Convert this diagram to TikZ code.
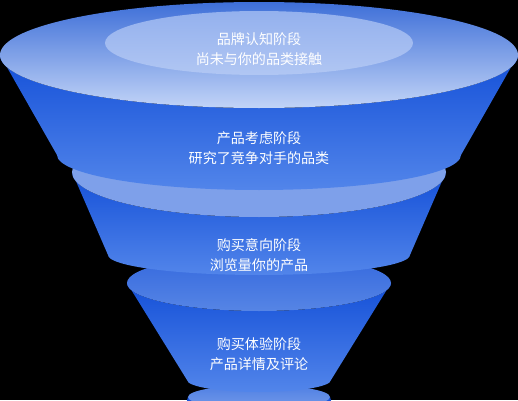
\documentclass[tikz,border=0pt]{standalone}
\usepackage{fontspec}
\usepackage{xcolor}
\usepackage{tikz}
\newfontfamily\cjk{Noto Sans CJK SC}

\definecolor{bodytop}{HTML}{1450D8}
\definecolor{bodybot}{HTML}{5285EA}
\definecolor{rimtop}{HTML}{3E6FD8}
\definecolor{rimbot}{HTML}{C2D4F7}
\definecolor{innerblue}{HTML}{9DB8F0}
\definecolor{bandblue}{HTML}{7EA0EA}
\definecolor{midblue}{HTML}{4F80E4}

\begin{document}
\begin{tikzpicture}[x=0.02cm, y=0.02cm,
    body/.style={top color=bodytop, bottom color=bodybot},
    stage/.style={text=white, align=center, font=\cjk\fontsize{8}{11}\selectfont}]
        \fill[black] (0,0) rectangle (518,400);
        \useasboundingbox (0,0) rectangle (518,400);
        \clip (0,0) rectangle (518,400);

        \coordinate (C1) at (259,345);
        \coordinate (C2) at (259,228);
        \coordinate (C3) at (259,117);
        \coordinate (C4) at (259,3);

        % bottom stage
        \shade[body] (188,3) -- (176,-40) -- (342,-40) -- (330,3) -- cycle;
        \shade[top color=midblue, bottom color=bandblue!80!midblue] (C4) ellipse [x radius=71, y radius=12];

        % third stage
        \shade[body] (127,117) -- (187,20) arc[start angle=180, end angle=360, x radius=72, y radius=12]
            -- (391,117) arc[start angle=0, end angle=-180, x radius=132, y radius=28] -- cycle;
        \shade[top color=bodytop!70!bandblue, bottom color=midblue!85!bandblue] (C3) ellipse [x radius=132, y radius=28];

        % second stage
        \shade[body] (72,228) -- (108,145) arc[start angle=180, end angle=360, x radius=151, y radius=20]
            -- (446,228) arc[start angle=0, end angle=-180, x radius=187, y radius=45] -- cycle;
        \fill[bandblue] (C2) ellipse [x radius=187, y radius=45];

        % top stage
        \shade[body] (0,345) -- (57,245) arc[start angle=180, end angle=360, x radius=202, y radius=35]
            -- (518,345) arc[start angle=0, end angle=-180, x radius=259, y radius=53] -- cycle;
        \shade[top color=rimtop, bottom color=rimbot] (C1) ellipse [x radius=259, y radius=53];
        \shade[top color=innerblue!90!rimtop, bottom color=innerblue!80!white] (259,357) ellipse [x radius=154, y radius=32];

        \node[stage] (brand) at (259,351) {品牌认知阶段\\尚未与你的品类接触};
        \node[stage] (consider) at (259,252) {产品考虑阶段\\研究了竞争对手的品类};
        \node[stage] (intent) at (259,145) {购买意向阶段\\浏览量你的产品};
        \node[stage] (trial) at (259,46) {购买体验阶段\\产品详情及评论};
    \end{tikzpicture}
\end{document}
